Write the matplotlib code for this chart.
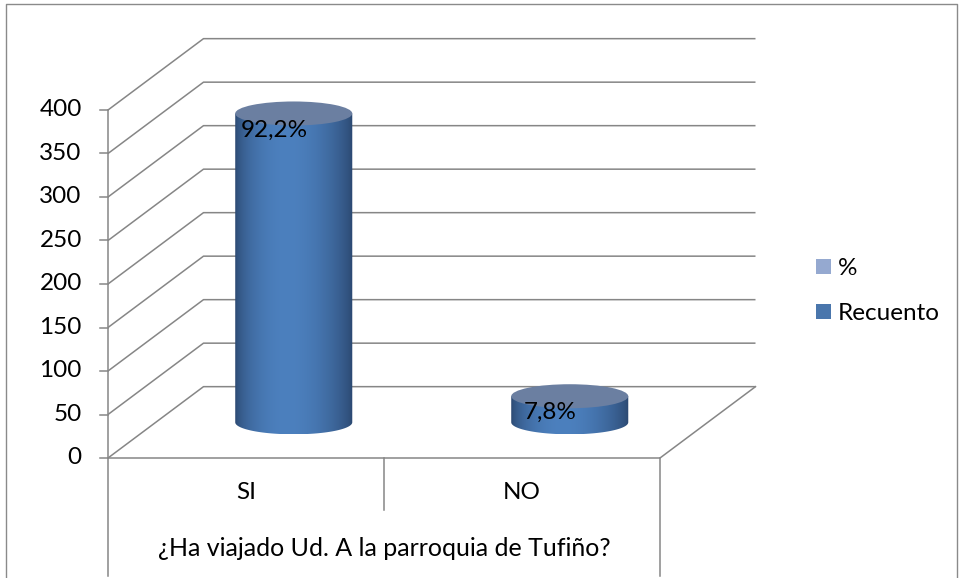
import numpy as np
import matplotlib
matplotlib.use("Agg")
from matplotlib import pyplot as plt
from matplotlib.patches import Ellipse, Patch, PathPatch
from matplotlib.path import Path

# data
categories = ["SI", "NO"]
counts = [355, 30]
pct_labels = ["92,2%", "7,8%"]
yticks = [0, 50, 100, 150, 200, 250, 300, 350, 400]
axis_title = "¿Ha viajado Ud. A la parroquia de Tufiño?"
legend_labels = ["%", "Recuento"]

plt.rcParams["font.family"] = ["Lato", "DejaVu Sans"]
FS = 17.5
GRID = "#868686"

fig = plt.figure(figsize=(9.61, 5.78), dpi=100)
ax = fig.add_axes([0, 0, 1, 1])
ax.axis("off")

# fake 3d depth offset (in data units)
DX, DY = 0.346, 82
ymax = yticks[-1]
ncat = len(categories)

# back wall gridlines + side wall diagonals
for t in yticks:
    ax.plot([0, DX, ncat + DX], [t, t + DY, t + DY], color=GRID, lw=1.1, solid_capstyle="butt")
    ax.plot([-0.03, 0], [t, t], color=GRID, lw=1.1)
    ax.text(-0.095, t, str(t), ha="right", va="center", fontsize=FS)
# floor
ax.plot([0, ncat, ncat + DX], [0, 0, DY], color=GRID, lw=1.1)
# front value axis and category axis box
ax.plot([0, 0], [ymax, -136], color=GRID, lw=1.1)
ax.plot([ncat, ncat], [0, -136], color=GRID, lw=1.1)
for i in range(1, ncat):
    ax.plot([i, i], [0, -60], color=GRID, lw=1.1)
for i, c in enumerate(categories):
    ax.text(i + 0.5, -40, c, ha="center", va="center", fontsize=FS)
ax.text(ncat / 2, -104, axis_title, ha="center", va="center", fontsize=FS + 0.5)

# cylinders
r = 0.212
ey = 13.8
dark = np.array([42, 70, 110]) / 255
light = np.array([76, 128, 190]) / 255
tt = np.linspace(0, 1, 200)
w = np.clip(np.sin(np.pi * tt ** 0.85), 0, 1) ** 0.7
grad = (dark[None, :] * (1 - w[:, None]) + light[None, :] * w[:, None])[None, :, :]
base = DY / 2
for i, v in enumerate(counts):
    cx = i + 0.5 + DX / 2
    top = base + v
    th = np.linspace(np.pi, 2 * np.pi, 60)
    pts = [(cx - r, top)] + [(cx + r * np.cos(a), base + ey * np.sin(a)) for a in th] + [(cx + r, top), (cx - r, top)]
    path = Path(pts)
    im = ax.imshow(grad, extent=(cx - r, cx + r, base - ey, top), aspect="auto", zorder=3, interpolation="bilinear")
    im.set_clip_path(PathPatch(path, transform=ax.transData))
    ax.add_patch(Ellipse((cx, top), 2 * r, 2 * ey, facecolor="#6B7FA1", edgecolor="none", zorder=4))
    ax.text(cx - 0.07, top - 19, pct_labels[i], ha="center", va="center", fontsize=FS, zorder=5)

ax.set_xlim(-108 / 276, (961 - 108) / 276)
ax.set_ylim((458 - 578) / 0.87, 458 / 0.87)

# legend
handles = [Patch(facecolor="#95A9D0", label=legend_labels[0]),
           Patch(facecolor="#4A76AC", label=legend_labels[1])]
fig.legend(handles=handles, loc="center left", bbox_to_anchor=(804 / 961, 1 - 291 / 578),
           frameon=False, fontsize=FS, handlelength=0.6, handleheight=0.6,
           handletextpad=0.3, labelspacing=1.0, borderpad=0)

# outer frame of the chart area
fig.add_artist(plt.Line2D([6 / 961, 6 / 961, 957 / 961, 957 / 961], [0, 1 - 4 / 578, 1 - 4 / 578, 0],
                          color="#8A8A8A", lw=1.0, transform=fig.transFigure))

fig.savefig("out.png", dpi=100)
